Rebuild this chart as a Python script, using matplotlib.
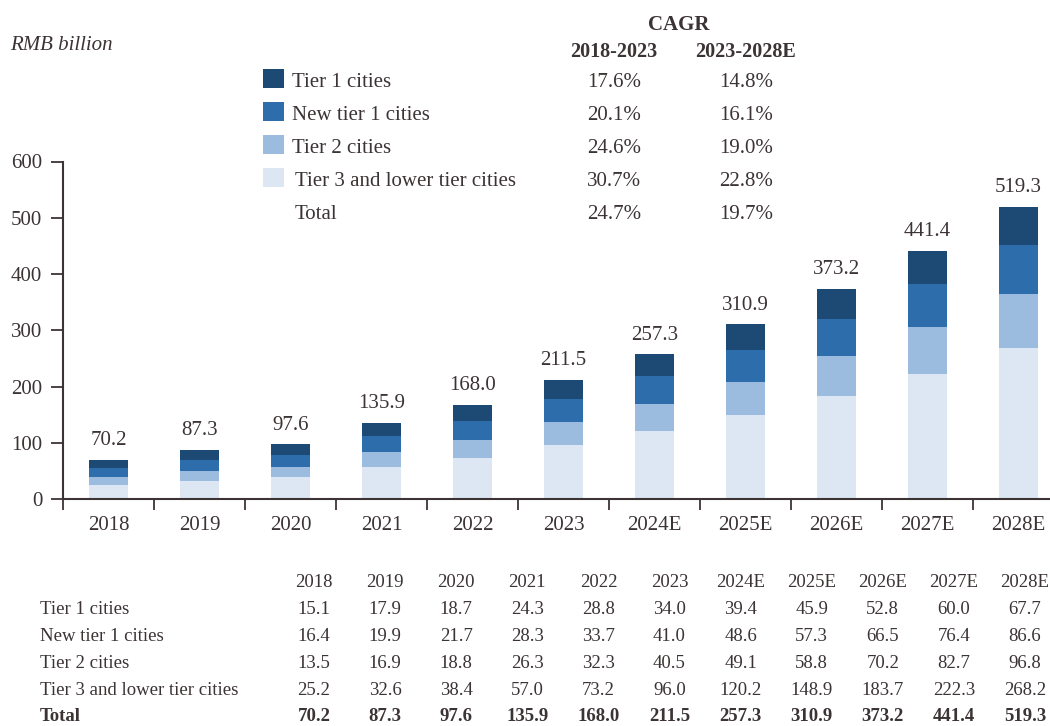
import matplotlib.pyplot as plt
import numpy as np

years = ["2018", "2019", "2020", "2021", "2022", "2023",
         "2024E", "2025E", "2026E", "2027E", "2028E"]
tier1 = [15.1, 17.9, 18.7, 24.3, 28.8, 34.0, 39.4, 45.9, 52.8, 60.0, 67.7]
new_tier1 = [16.4, 19.9, 21.7, 28.3, 33.7, 41.0, 48.6, 57.3, 66.5, 76.4, 86.6]
tier2 = [13.5, 16.9, 18.8, 26.3, 32.3, 40.5, 49.1, 58.8, 70.2, 82.7, 96.8]
tier3 = [25.2, 32.6, 38.4, 57.0, 73.2, 96.0, 120.2, 148.9, 183.7, 222.3, 268.2]
totals = [70.2, 87.3, 97.6, 135.9, 168.0, 211.5, 257.3, 310.9, 373.2, 441.4, 519.3]

series_names = ["Tier 1 cities", "New tier 1 cities", "Tier 2 cities",
                "Tier 3 and lower tier cities"]
cagr_1823 = ["17.6%", "20.1%", "24.6%", "30.7%", "24.7%"]
cagr_2328 = ["14.8%", "16.1%", "19.0%", "22.8%", "19.7%"]

colors = ["#1d4a75", "#2e6dab", "#9bbbdf", "#dce7f3"]
txt = "#3b3334"

plt.rcParams['font.family'] = ['Liberation Serif', 'DejaVu Serif']
plt.rcParams['text.color'] = txt

W, H = 1050, 726
fig = plt.figure(figsize=(W / 100, H / 100), dpi=100)

def fx(x):
    return x / W

def fy(y):
    return 1 - y / H

# main axes (right edge runs past the figure, as in the reference)
ax = fig.add_axes([fx(63), fy(499), fx(1001), (499 - 161.5) / H])
x = np.arange(len(years))
bottom = np.zeros(len(years))
stack = [tier3, tier2, new_tier1, tier1]
stack_colors = [colors[3], colors[2], colors[1], colors[0]]
for vals, c in zip(stack, stack_colors):
    ax.bar(x, vals, bottom=bottom, width=0.43, color=c, linewidth=0)
    bottom += np.array(vals)

for xi, t in zip(x, totals):
    ax.annotate(f"{t:.1f}", (xi, t), xytext=(0, 10.5), textcoords="offset points",
                ha="center", va="baseline", fontsize=15, color=txt)

ax.set_xlim(-0.5, len(years) - 0.5)
ax.set_ylim(0, 600)
ax.set_yticks(range(0, 601, 100))
ax.set_xticks(x)
ax.set_xticklabels(years)
ax.set_xticks(np.arange(-0.5, len(years), 1), minor=True)
ax.tick_params(axis="y", direction="out", length=9, width=1.3, color=txt,
               labelsize=15, labelcolor=txt, pad=6)
ax.tick_params(axis="x", which="major", length=0, labelsize=15,
               labelcolor=txt, pad=12)
ax.tick_params(axis="x", which="minor", direction="out", length=8,
               width=1.3, color=txt)
for s in ["top", "right"]:
    ax.spines[s].set_visible(False)
for s in ["left", "bottom"]:
    ax.spines[s].set_color(txt)
    ax.spines[s].set_linewidth(1.5)

fig.text(fx(10), fy(50.5), "RMB billion", fontsize=15, style="italic",
         va="baseline", ha="left")

# legend with CAGR columns
rows_y = [78, 111, 144, 177, 210]
for i, name in enumerate(series_names + ["Total"]):
    yc = rows_y[i]
    if i < 4:
        fig.patches.append(plt.Rectangle((fx(263), fy(yc + 9.5)), fx(21), 19 / H,
                                         transform=fig.transFigure,
                                         color=colors[i], linewidth=0))
    lx = 292 if i < 3 else 295
    fig.text(fx(lx), fy(yc + 9), name, fontsize=15, va="baseline", ha="left")
    fig.text(fx(614), fy(yc + 9), cagr_1823[i], fontsize=15, va="baseline", ha="center")
    fig.text(fx(746), fy(yc + 9), cagr_2328[i], fontsize=15, va="baseline", ha="center")

fig.text(fx(679), fy(30), "CAGR", fontsize=15, weight="bold", va="baseline", ha="center")
fig.text(fx(614), fy(57), "2018-2023", fontsize=14.5, weight="bold", va="baseline", ha="center")
fig.text(fx(746), fy(57), "2023-2028E", fontsize=14.5, weight="bold", va="baseline", ha="center")

# data table under the chart
col_x = [314 + i * 71.1 for i in range(len(years))]
table_rows = [tier1, new_tier1, tier2, tier3, totals]
row_labels = series_names + ["Total"]
table_y = [614, 641, 668, 695, 721]
for cx, yr in zip(col_x, years):
    fig.text(fx(cx), fy(587), yr, fontsize=13.5, va="baseline", ha="center")
for lab, vals, ry in zip(row_labels, table_rows, table_y):
    w = "bold" if lab == "Total" else "normal"
    fig.text(fx(40), fy(ry), lab, fontsize=13.5, va="baseline", ha="left", weight=w)
    for cx, v in zip(col_x, vals):
        fig.text(fx(cx), fy(ry), f"{v:.1f}", fontsize=13.5, va="baseline",
                 ha="center", weight=w)

fig.savefig("out.png", dpi=100)
